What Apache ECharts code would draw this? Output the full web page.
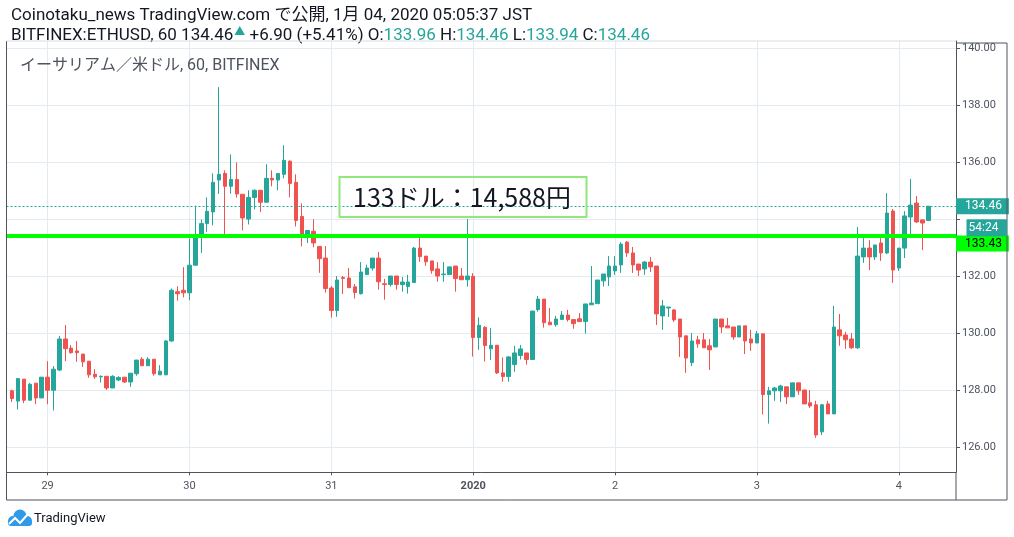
<!DOCTYPE html>
<html><head><meta charset="utf-8">
<script src="https://cdn.jsdelivr.net/npm/echarts@6/dist/echarts.min.js"></script>
<style>html,body{margin:0;padding:0;background:#fff}#main{width:1014px;height:537px}</style>
</head><body><div id="main"></div>
<script>
// Hourly candles, 28 Dec 2019 18:00 JST -> 4 Jan 2020 05:00 JST
const opens = [
127.98,127.62,128.39,127.65,128.25,127.73,128.46,128.00,128.71,129.80,
129.48,129.38,129.27,129.02,128.56,128.47,128.49,128.08,128.36,128.46,
128.29,128.58,129.09,128.86,129.09,128.54,128.54,129.73,131.46,131.51,
131.42,132.39,133.44,133.85,134.26,135.38,135.61,135.16,135.40,134.88,
134.01,134.77,135.02,134.60,135.44,135.38,135.58,136.04,135.30,134.10,
133.47,133.58,133.05,132.64,131.59,130.80,131.96,131.94,131.63,131.39,
132.06,132.29,132.64,131.74,131.71,132.01,131.71,131.64,131.78,132.99,
132.71,132.54,132.26,132.06,132.06,132.36,132.01,131.88,132.00,129.85,
130.21,129.46,129.58,128.61,128.48,128.90,129.22,129.31,129.08,130.83,
131.20,130.39,130.30,130.48,130.64,130.48,130.51,130.41,131.00,131.04,
131.84,131.98,132.19,132.40,133.20,132.82,132.43,132.26,132.50,132.36,
130.61,130.89,130.82,130.50,129.91,128.97,129.77,129.77,129.56,129.52,
130.50,130.26,130.22,129.87,130.26,129.80,129.66,129.98,127.85,127.98,
127.98,128.12,127.77,128.26,128.01,127.56,127.49,126.54,127.52,127.17,
130.12,129.94,129.80,129.49,132.68,132.99,132.68,133.17,132.82,134.29,
132.29,132.99,134.08,134.57,133.98,133.96];
const closes = [
127.71,128.41,127.65,128.21,127.73,128.46,128.00,128.74,129.80,129.46,
129.32,129.32,129.00,128.54,128.47,128.49,128.08,128.49,128.45,128.29,
128.60,129.06,128.86,129.09,128.58,128.67,129.73,131.51,131.39,131.42,
132.39,133.44,133.85,134.28,135.30,135.58,135.16,135.40,134.89,134.05,
134.77,135.02,134.60,135.44,135.38,135.61,136.07,135.26,133.96,133.38,
133.61,133.17,132.62,131.57,130.80,131.87,131.93,131.60,131.43,132.15,
132.29,132.64,131.81,131.71,132.01,131.71,131.80,131.80,132.99,132.69,
132.51,132.20,132.01,132.08,132.33,131.92,131.88,132.01,129.85,130.28,
129.57,129.58,128.61,128.48,129.17,129.31,129.45,129.08,130.78,131.20,
130.37,130.30,130.50,130.64,130.48,130.34,130.41,131.03,131.06,131.87,
132.08,132.36,132.36,133.13,132.82,132.40,132.22,132.50,132.33,130.68,
130.96,130.92,130.47,129.87,129.13,129.73,129.63,129.49,129.42,130.50,
130.22,130.19,129.87,130.26,129.73,129.66,129.98,127.85,127.98,128.08,
128.15,127.77,128.26,127.98,127.52,127.45,126.43,127.49,127.17,130.22,
129.91,129.77,129.49,132.71,132.99,132.68,133.10,132.82,134.22,132.22,
132.99,134.12,134.50,133.91,133.87,134.46];
const lows = [
127.59,127.33,127.55,127.65,127.51,127.73,127.51,127.29,128.67,129.02,
129.28,129.00,128.82,128.44,128.40,128.27,128.01,128.08,128.32,128.26,
128.12,128.51,128.86,128.86,128.51,128.54,128.54,129.70,131.15,131.26,
131.16,132.39,132.82,133.56,133.79,134.89,133.47,134.90,134.76,133.61,
133.82,134.35,134.26,134.60,135.16,135.02,135.44,134.77,133.75,133.05,
133.17,133.02,132.12,131.43,130.55,130.58,131.38,131.60,131.22,131.36,
132.06,132.20,131.53,131.18,131.64,131.53,131.46,131.39,131.78,132.51,
132.37,132.09,131.81,131.81,132.06,131.46,131.88,131.64,129.18,129.42,
129.01,129.06,128.57,128.30,128.30,128.65,129.08,128.90,129.08,130.76,
130.20,130.30,130.23,130.48,130.41,130.16,130.41,129.99,131.00,131.04,
131.64,131.66,132.05,132.12,132.68,132.12,132.01,132.05,132.15,130.29,
130.12,130.57,130.40,129.17,128.61,128.85,129.49,129.49,128.71,129.52,
130.01,130.19,129.77,129.87,129.27,129.38,129.66,127.15,126.83,127.63,
127.59,127.52,127.77,127.84,127.52,127.38,126.33,126.43,127.17,127.17,
129.56,129.45,129.45,129.45,132.47,132.22,132.57,132.54,132.78,131.77,
132.19,132.64,133.34,133.87,132.92,133.94];
const highs = [
128.02,128.41,128.39,128.26,128.25,128.46,129.02,128.85,129.91,130.29,
129.59,129.73,129.27,129.02,128.74,128.52,128.49,128.53,128.49,128.46,
128.60,129.06,129.16,129.16,129.09,128.88,129.76,131.57,131.65,132.32,
133.33,134.48,133.99,134.77,135.61,138.64,135.72,136.28,136.00,134.88,
135.02,135.05,135.02,135.93,135.72,135.61,136.60,136.07,135.58,134.56,
133.61,134.00,133.05,133.06,131.66,132.01,132.01,132.29,131.73,132.50,
132.41,132.64,132.85,131.91,132.01,132.01,131.98,132.05,133.03,133.38,
132.71,132.54,132.50,132.50,132.33,132.36,132.29,134.01,132.11,130.56,
130.25,130.19,129.58,129.15,129.20,129.56,129.59,129.31,130.78,131.31,
131.20,130.89,130.61,130.78,130.82,130.48,130.71,131.03,132.36,131.87,
132.08,132.71,132.71,133.20,133.24,133.03,132.43,132.54,132.68,132.36,
131.17,130.92,130.85,130.50,129.91,130.01,129.91,130.01,129.80,130.50,
130.50,130.54,130.22,130.26,130.26,130.12,130.08,129.98,128.12,128.12,
128.19,128.12,128.26,128.26,128.01,128.01,127.63,127.52,127.63,130.96,
130.68,130.05,130.01,133.73,133.34,133.27,133.10,133.34,134.92,134.36,
132.99,134.29,135.42,134.82,133.99,134.46];

const dayLabels = ['29', '30', '31', '2020', '2', '3', '4'];
const dayTickIndex = [6, 30, 54, 78, 102, 126, 150];
const priceTicks = [126, 128, 130, 132, 134, 136, 138, 140];
const priceLabelTicks = [126, 128, 130, 132, 136, 138, 140];
const lastPrice = 134.46;
const levelPrice = 133.43;
const countdownText = '54:24';
const noteText = '133ドル：14,588円';

const FONT = 'Roboto, "Noto Sans CJK JP", sans-serif';
const UP = '#26a69a', DOWN = '#ef5350', AXIS = '#50535e', GRIDC = '#e3ebf1';

const chart = echarts.init(document.getElementById('main'), null, {renderer: 'canvas'});

const candleData = opens.map((o, i) => [i, o, closes[i], lows[i], highs[i]]);

chart.setOption({
  animation: false,
  backgroundColor: '#fff',
  textStyle: {fontFamily: FONT},
  title: [
    {text: 'Coinotaku_news TradingView.com で公開, 1月 04, 2020 05:05:37 JST',
     left: 6, top: 2,
     textStyle: {fontSize: 17, fontWeight: 'normal', color: '#131722', fontFamily: FONT}},
    {text: '{k|BITFINEX:ETHUSD, 60 134.46}{t|▲}{k| +6.90 (+5.41%) O:}{g|133.96}{k| H:}{g|134.46}{k| L:}{g|133.94}{k| C:}{g|134.46}',
     left: 6, top: 22,
     textStyle: {fontSize: 17, fontWeight: 'normal', fontFamily: FONT,
       rich: {
         k: {fontSize: 17, color: '#131722', fontFamily: FONT},
         g: {fontSize: 17, color: UP, fontFamily: FONT},
         t: {fontSize: 11, color: UP, fontFamily: FONT, verticalAlign: 'top', padding: [0, 0, 5, 1]}
       }}},
    {text: 'イーサリアム／米ドル, 60, BITFINEX',
     left: 15, top: 53,
     textStyle: {fontSize: 16, fontWeight: 'normal', color: '#4c525e', fontFamily: FONT}}
  ],
  grid: {left: 6.5, right: 58, top: 41, bottom: 64.7, containLabel: false},
  xAxis: {
    type: 'value', min: -0.95, max: 159.67,
    axisLine: {show: true, onZero: false, lineStyle: {color: AXIS, width: 1}},
    axisTick: {show: true, customValues: dayTickIndex, length: 3, lineStyle: {color: AXIS}},
    axisLabel: {
      customValues: dayTickIndex, color: AXIS, fontSize: 11, margin: 8, fontFamily: FONT,
      formatter: v => {
        const k = dayTickIndex.indexOf(Math.round(v));
        const s = k >= 0 ? dayLabels[k] : '';
        return s.length === 4 ? '{b|' + s + '}' : s;
      },
      rich: {b: {fontWeight: 'bold', fontSize: 11, color: AXIS, fontFamily: FONT}}
    },
    splitLine: {show: true, lineStyle: {color: GRIDC, width: 1}}
  },
  yAxis: {
    type: 'value', position: 'right', min: 125.12, max: 140.26,
    axisLine: {show: true, onZero: false, lineStyle: {color: AXIS, width: 1}},
    axisTick: {show: true, customValues: priceTicks, length: 4, lineStyle: {color: AXIS}},
    axisLabel: {customValues: priceLabelTicks, color: '#4c525e', fontSize: 11, margin: 6, fontFamily: FONT,
      formatter: v => v.toFixed(2)},
    splitLine: {show: true, lineStyle: {color: GRIDC, width: 1}}
  },
  series: [{
    type: 'candlestick',
    data: candleData,
    encode: {x: 0, y: [1, 2, 3, 4]},
    barWidth: 4,
    itemStyle: {color: UP, color0: DOWN, borderColor: UP, borderColor0: DOWN, borderColorDoji: UP, borderWidth: 1},
    markLine: {
      silent: true, symbol: 'none', animation: false,
      data: [
        {yAxis: lastPrice,
         lineStyle: {color: UP, width: 1, type: [2, 2]},
         label: {show: true, position: 'end', distance: 0, formatter: lastPrice.toFixed(2),
           backgroundColor: UP, color: '#fff', fontSize: 12, fontFamily: FONT, padding: [2, 7, 2, 9]}},
        {yAxis: levelPrice,
         lineStyle: {color: '#00ff00', width: 4, type: 'solid'},
         label: {show: true, position: 'end', distance: 0, offset: [0, 8], formatter: levelPrice.toFixed(2),
           backgroundColor: '#00ff00', color: '#000', fontSize: 12, fontFamily: FONT, padding: [2, 7, 2, 9]}}
      ]
    }
  }]
});

// decorations positioned relative to the axes
const gx0 = chart.convertToPixel({xAxisIndex: 0}, -0.95);
const gx1 = chart.convertToPixel({xAxisIndex: 0}, 159.67);
const yLast = chart.convertToPixel({yAxisIndex: 0}, lastPrice);
const yBottom = chart.convertToPixel({yAxisIndex: 0}, 125.12);
const yTop = chart.convertToPixel({yAxisIndex: 0}, 140.26);
const frameR = 1007, frameB = 500;

chart.setOption({
  graphic: [
    // frame
    {type: 'line', shape: {x1: gx0, y1: yTop, x2: gx0, y2: frameB}, style: {stroke: AXIS, lineWidth: 1}, z: 10},
    {type: 'line', shape: {x1: gx0, y1: frameB, x2: frameR, y2: frameB}, style: {stroke: AXIS, lineWidth: 1}, z: 10},
    {type: 'line', shape: {x1: frameR, y1: yTop + 2, x2: frameR, y2: frameB}, style: {stroke: AXIS, lineWidth: 1}, z: 10},
    {type: 'line', shape: {x1: gx1, y1: yTop + 2, x2: frameR, y2: yTop + 2}, style: {stroke: AXIS, lineWidth: 1}, z: 10},
    {type: 'line', shape: {x1: gx0, y1: yTop, x2: gx1, y2: yTop}, style: {stroke: '#d6dde4', lineWidth: 1}, z: 10},
    {type: 'line', shape: {x1: gx1, y1: yBottom, x2: gx1, y2: frameB}, style: {stroke: AXIS, lineWidth: 1}, z: 10},
    // countdown label
    {type: 'rect', shape: {x: gx1 + 10.5, y: yLast + 13, width: frameR - gx1 - 10.5, height: 17},
     style: {fill: UP}, z: 20},
    {type: 'text', x: gx1 + 12.5, y: yLast + 21.5,
     style: {text: countdownText, fill: '#fff', font: '12px ' + FONT, textVerticalAlign: 'middle'}, z: 21},
    // note box
    {type: 'rect', shape: {x: 339.5, y: 177, width: 247, height: 40},
     style: {fill: 'rgba(0,0,0,0)', stroke: '#90e87c', lineWidth: 2}, z: 20},
    {type: 'text', x: 462, y: 197.5,
     style: {text: noteText, fill: '#131722', font: '25px "Noto Sans CJK JP", sans-serif',
       textAlign: 'center', textVerticalAlign: 'middle'}, z: 21},
    // TradingView logo
    {type: 'group', x: 0, y: 0, z: 20, children: [
      {type: 'circle', shape: {cx: 13, cy: 521, r: 5}, style: {fill: '#2f9ae8'}},
      {type: 'circle', shape: {cx: 20, cy: 516, r: 6.5}, style: {fill: '#2f9ae8'}},
      {type: 'circle', shape: {cx: 27, cy: 521, r: 5}, style: {fill: '#2f9ae8'}},
      {type: 'rect', shape: {x: 8, y: 520, width: 24, height: 6, r: 3}, style: {fill: '#2f9ae8'}},
      {type: 'polyline', shape: {points: [[9, 524], [15, 518], [20, 523], [28, 514]]},
       style: {stroke: '#fff', lineWidth: 2, fill: null}}
    ]},
    {type: 'text', x: 34, y: 519,
     style: {text: 'TradingView', fill: '#131722', font: '13px ' + FONT, textVerticalAlign: 'middle'}, z: 20}
  ]
});
</script>
</body></html>
